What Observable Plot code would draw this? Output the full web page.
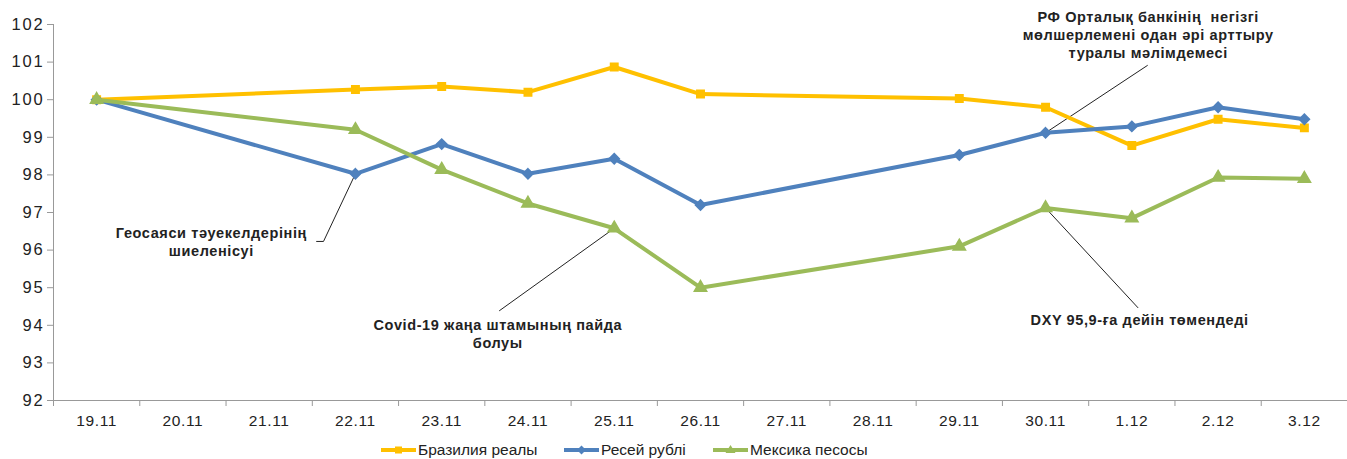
<!DOCTYPE html>
<html><head><meta charset="utf-8">
<script src="https://cdn.jsdelivr.net/npm/d3@7"></script>
<script src="https://cdn.jsdelivr.net/npm/@observablehq/plot@0.6"></script>
<style>
body{margin:0;background:#fff;font-family:"Liberation Sans",Arial,sans-serif;}
#legend{height:22px;font-size:15.5px;color:#222;}
#legend .it{display:flex;align-items:center;}
.ytick text{letter-spacing:1.8px;}
.xtick text{letter-spacing:0.6px;}
.note text{letter-spacing:0.6px;}
</style></head>
<body><div id="chart"></div><div id="legend"></div>
<script>
const dates = ["19.11","20.11","21.11","22.11","23.11","24.11","25.11","26.11","27.11","28.11","29.11","30.11","1.12","2.12","3.12"];
const obsDates = ["19.11","22.11","23.11","24.11","25.11","26.11","29.11","30.11","1.12","2.12","3.12"];
const brl = [100, 100.27, 100.35, 100.2, 100.87, 100.15, 100.03, 99.8, 98.78, 99.48, 99.25];
const rub = [100, 98.03, 98.82, 98.03, 98.43, 97.2, 98.53, 99.12, 99.29, 99.8, 99.48];
const mxn = [100, 99.2, 98.14, 97.24, 96.58, 95.0, 96.1, 97.12, 96.85, 97.93, 97.9];
const seriesNames = ["Бразилия реалы","Ресей рублі","Мексика песосы"];
const seriesColors = ["#FFC000","#4F81BD","#9BBB59"];
const seriesSymbols = ["square","diamond2","triangle"];
const yTicks = [92,93,94,95,96,97,98,99,100,101,102];
const notes = [
  {text:"Геосаяси тәуекелдерінің\nшиеленісуі", x:1.33, y:96.24, from:[[2.55,96.23],[2.63,96.23]], to:["22.11", rub[1]]},
  {text:"Covid-19 жаңа штамының пайда\nболуы", x:4.65, y:93.8, from:[[4.67,94.39]], to:["25.11", mxn[4]]},
  {text:"РФ Орталық банкінің  негізгі\nмөлшерлемені одан әрі арттыру\nтуралы мәлімдемесі", x:12.19, y:101.74, from:[[12.18,100.91]], to:["30.11", rub[7]]},
  {text:"DXY 95,9-ға дейін төмендеді", x:12.09, y:94.15, from:[[12.07,94.47]], to:["30.11", mxn[7]]}
];

const idx = d => dates.indexOf(d);
const all = [brl, rub, mxn];
const rows = [];
all.forEach((vals, s) => vals.forEach((v, i) => rows.push({series: seriesNames[s], x: idx(obsDates[i]), y: v})));
const edges = d3.range(0, dates.length + 1).map(i => i - 0.5);
const leaders = notes.map(n => [...n.from, [idx(n.to[0]), n.to[1]]]);

const marks = [
  Plot.axisY(yTicks, {tickSize: 6, stroke: "#999", tickPadding: 3, fontSize: 16.5, fill: "#222", label: null, className: "ytick"}),
  Plot.ruleX([edges[0]], {stroke: "#999"}),
  Plot.ruleY([92], {stroke: "#999"}),
  Plot.axisX(dates.map((d,i)=>i), {tickSize: 0, tickPadding: 14, tickFormat: i => dates[i], fontSize: 15.5, fill: "#222", label: null, className: "xtick"}),
  Plot.axisX(edges, {tickSize: 6, stroke: "#999", tickFormat: () => "", label: null}),
];
leaders.forEach(l => marks.push(Plot.line(l, {x: d => d[0], y: d => d[1], stroke: "#222", strokeWidth: 1})));
seriesNames.forEach((name, s) => {
  const data = rows.filter(r => r.series === name);
  marks.push(Plot.line(data, {x: "x", y: "y", stroke: seriesColors[s], strokeWidth: 4}));
  marks.push(Plot.dot(data, {x: "x", y: "y", fill: seriesColors[s], stroke: seriesColors[s], symbol: () => seriesSymbols[s], r: s === 0 ? 4.2 : 4.6}));
});
marks.push(Plot.text(notes, {x: "x", y: "y", text: "text", fontWeight: "bold", fontSize: 14.5, fill: "#222", lineHeight: 1.25, className: "note"}));

const chart = Plot.plot({
  width: 1347, height: 437,
  marginLeft: 53, marginRight: 0, marginTop: 24, marginBottom: 37,
  x: {type: "linear", domain: [-0.5, dates.length - 0.5]},
  y: {domain: [92, 102]},
  symbol: {type: "identity"},
  style: {fontFamily: "'Liberation Sans', Arial, sans-serif", background: "#fff", overflow: "visible"},
  marks
});
document.getElementById("chart").appendChild(chart);

const lg = document.getElementById("legend");
const starts = [381, 564, 713];
seriesNames.forEach((n, s) => {
  const it = document.createElement("div");
  it.className = "it";
  it.style.position = "absolute";
  it.style.left = starts[s] + "px";
  it.style.top = "439px";
  it.innerHTML = `<svg width="35" height="22" style="margin-right:2px"><line x1="0" x2="35" y1="11" y2="11" stroke="${seriesColors[s]}" stroke-width="4"/>${s===0?`<rect x="14" y="7.5" width="7" height="7" fill="${seriesColors[s]}"/>`:s===1?`<path d="M17.5 6.5 L22 11 L17.5 15.5 L13 11Z" fill="${seriesColors[s]}"/>`:`<path d="M17.5 6 L22.5 14 L12.5 14Z" fill="${seriesColors[s]}"/>`}</svg><span>${n}</span>`;
  lg.appendChild(it);
});
</script></body></html>
